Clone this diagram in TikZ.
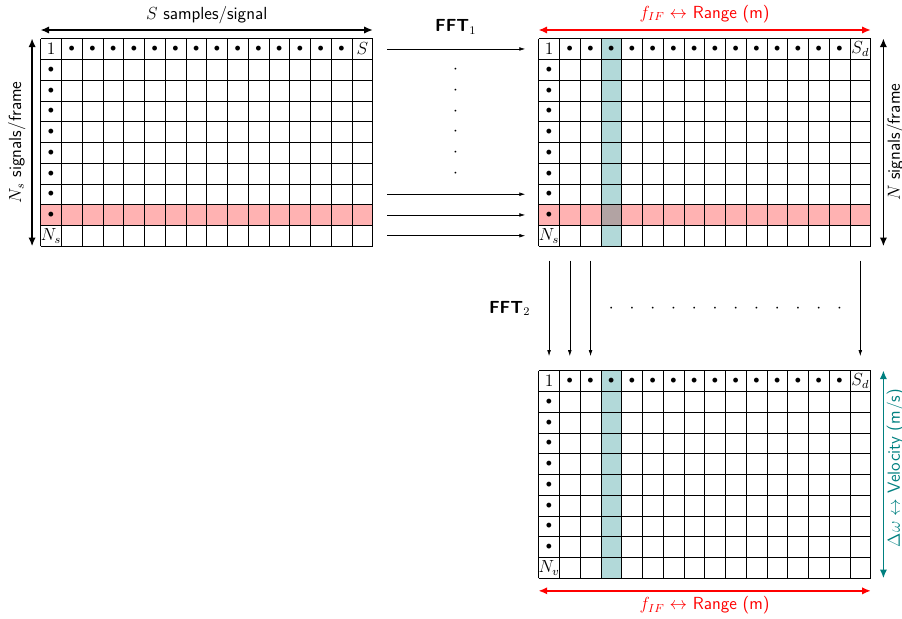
\documentclass[tikz,border=0pt]{standalone}
\usetikzlibrary{arrows.meta}

\tikzset{
  dimarrow/.style={{Latex[length=6pt,width=5pt]}-{Latex[length=6pt,width=5pt]}, very thick},
  fftarrow/.style={-{Latex[length=4pt,width=2.5pt]}},
  celllabel/.style={inner sep=0pt, font=\large},
  celldot/.style={inner sep=0pt, font=\footnotesize},
  axislabel/.style={inner sep=0pt, font=\sffamily\large},
  gridbox/.style={inner sep=0pt, minimum width=8cm, minimum height=5cm},
}

% one 16 x 10 data matrix, lower left corner at (#2,#3)
\newcommand{\datagrid}[5]{%
  \begin{scope}[shift={(#2,#3)}]
    \draw[step=0.5cm] (0,0) grid (16,10);
    \node[gridbox] (#1) at (8,5) {};
    \node[celllabel] (#1-first) at (0.5,9.5) {$1$};
    \foreach \c in {2,...,15}
      \node[celldot] (#1-top-\c) at (\c-0.5,9.5) {$\bullet$};
    \node[celllabel] (#1-last) at (15.5,9.5) {$#4$};
    \foreach \r in {2,...,9}
      \node[celldot] (#1-left-\r) at (0.5,10.5-\r) {$\bullet$};
    \node[celllabel] (#1-end) at (0.5,0.5) {$#5$};
  \end{scope}}

\begin{document}
\begin{tikzpicture}[x=0.5cm, y=0.5cm]
\useasboundingbox (-1.96,-17.93) rectangle (41.51,11.86);

% raw samples
\fill[red, fill opacity=0.3] (0,1) rectangle (16,2);
\datagrid{raw}{0}{0}{S}{N_s}

% after the first FFT
\fill[red, fill opacity=0.3] (24,1) rectangle (40,2);
\fill[teal, fill opacity=0.3] (27,0) rectangle (28,10);
\datagrid{rng}{24}{0}{S_d}{N_s}

% after the second FFT
\fill[teal, fill opacity=0.3] (27,-16) rectangle (28,-6);
\datagrid{vel}{24}{-16}{S_d}{N_v}

% dimensions of the raw matrix
\draw[dimarrow] ([yshift=0.2cm]raw.north west) -- ([yshift=0.2cm]raw.north east);
\node[axislabel] (rawtop) at (8,11.15) {$S$ samples/signal};
\draw[dimarrow] ([xshift=-0.2cm]raw.north west) -- ([xshift=-0.2cm]raw.south west);
\node[axislabel, rotate=90] (rawleft) at (-1.15,5) {$N_s$ signals/frame};

% FFT along the samples
\node[axislabel] (fft1) at (20,10.55) {\textbf{FFT}$_1$};
\foreach \r [count=\k] in {9.5,2.5,1.5,0.5} {
  \coordinate (fft1-in-\k) at (16.7,\r);
  \coordinate (fft1-out-\k) at (23.35,\r);
  \draw[fftarrow] (fft1-in-\k) -- (fft1-out-\k);
}
\foreach \r in {3,...,8}
  \node[inner sep=0pt, font=\large] (fft1-dot-\r) at (20,\r+0.5) {$\cdot$};

% dimensions of the range matrix
\draw[dimarrow, red] ([yshift=0.2cm]rng.north west) -- ([yshift=0.2cm]rng.north east);
\node[axislabel, red] (rngtop) at (32,11.2) {$f_{IF} \leftrightarrow$ Range (m)};
\draw[dimarrow] ([xshift=0.3cm]rng.north east) -- ([xshift=0.3cm]rng.south east);
\node[axislabel, rotate=90] (rngright) at (41.2,5) {$N$ signals/frame};

% FFT along the signals
\node[axislabel] (fft2) at (22.6,-3) {\textbf{FFT}$_2$};
\foreach \c in {1,2,3,16} {
  \coordinate (fft2-in-\c) at (23.5+\c,-0.7);
  \coordinate (fft2-out-\c) at (23.5+\c,-5.3);
  \draw[fftarrow] (fft2-in-\c) -- (fft2-out-\c);
}
\foreach \c in {4,...,15}
  \node[inner sep=0pt, font=\large] (fft2-dot-\c) at (23.5+\c,-3) {$\cdot$};

% dimensions of the velocity matrix
\draw[dimarrow, teal] ([xshift=0.3cm]vel.north east) -- ([xshift=0.3cm]vel.south east);
\node[axislabel, teal, rotate=90] (velright) at (41.2,-10.7) {$\Delta\omega \leftrightarrow$ Velocity (m/s)};
\draw[dimarrow, red] ([yshift=-0.3cm]vel.south west) -- ([yshift=-0.3cm]vel.south east);
\node[axislabel, red] (velbottom) at (32,-17.3) {$f_{IF} \leftrightarrow$ Range (m)};
\end{tikzpicture}
\end{document}
